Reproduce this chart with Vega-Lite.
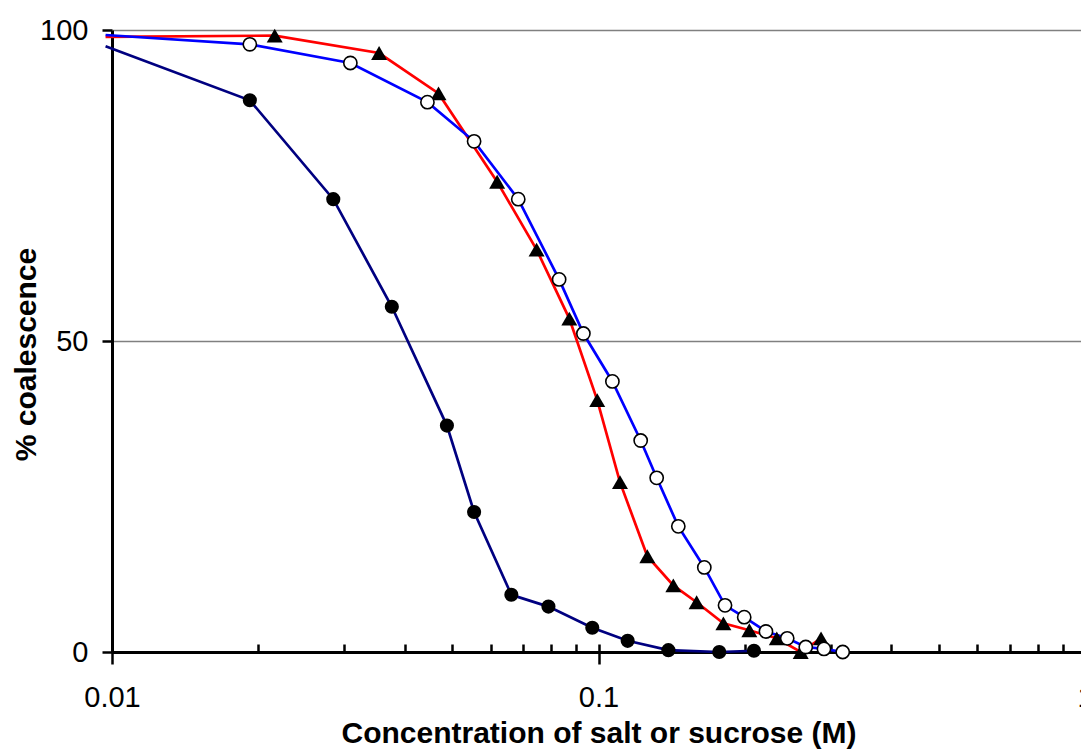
{
  "$schema": "https://vega.github.io/schema/vega-lite/v6.json",
  "width": 973,
  "height": 622,
  "autosize": {"type": "none"},
  "padding": {"left": 112, "top": 30, "right": -4, "bottom": 100},
  "background": "white",
  "config": {
    "font": "Liberation Sans",
    "view": {"stroke": null},
    "axis": {"labelColor": "black", "titleColor": "black", "labelFont": "Liberation Sans", "titleFont": "Liberation Sans"}
  },
  "data": {
    "values": [
      {"series": "S1", "x": 0.0097, "y": 97.4},
      {"series": "S1", "x": 0.0192, "y": 88.7},
      {"series": "S1", "x": 0.0285, "y": 72.8},
      {"series": "S1", "x": 0.0376, "y": 55.5},
      {"series": "S1", "x": 0.0488, "y": 36.4},
      {"series": "S1", "x": 0.0555, "y": 22.5},
      {"series": "S1", "x": 0.0662, "y": 9.2},
      {"series": "S1", "x": 0.0789, "y": 7.3},
      {"series": "S1", "x": 0.0971, "y": 3.9},
      {"series": "S1", "x": 0.1148, "y": 1.8},
      {"series": "S1", "x": 0.1392, "y": 0.3},
      {"series": "S1", "x": 0.1771, "y": 0.0},
      {"series": "S1", "x": 0.2087, "y": 0.2},
      {"series": "S2", "x": 0.0097, "y": 98.9},
      {"series": "S2", "x": 0.0216, "y": 99.1},
      {"series": "S2", "x": 0.0354, "y": 96.3},
      {"series": "S2", "x": 0.0469, "y": 89.8},
      {"series": "S2", "x": 0.0619, "y": 75.6},
      {"series": "S2", "x": 0.0746, "y": 64.7},
      {"series": "S2", "x": 0.0871, "y": 53.6},
      {"series": "S2", "x": 0.0994, "y": 40.5},
      {"series": "S2", "x": 0.1107, "y": 27.3},
      {"series": "S2", "x": 0.126, "y": 15.4},
      {"series": "S2", "x": 0.1425, "y": 10.7},
      {"series": "S2", "x": 0.1591, "y": 8.0},
      {"series": "S2", "x": 0.1806, "y": 4.6},
      {"series": "S2", "x": 0.2042, "y": 3.5},
      {"series": "S2", "x": 0.2325, "y": 2.2},
      {"series": "S2", "x": 0.2604, "y": 0.0},
      {"series": "S2", "x": 0.2867, "y": 2.2},
      {"series": "S3", "x": 0.0097, "y": 99.2},
      {"series": "S3", "x": 0.0192, "y": 97.7},
      {"series": "S3", "x": 0.0309, "y": 94.7},
      {"series": "S3", "x": 0.0445, "y": 88.4},
      {"series": "S3", "x": 0.0555, "y": 82.1},
      {"series": "S3", "x": 0.0684, "y": 72.8},
      {"series": "S3", "x": 0.083, "y": 59.9},
      {"series": "S3", "x": 0.0931, "y": 51.2},
      {"series": "S3", "x": 0.1068, "y": 43.5},
      {"series": "S3", "x": 0.1221, "y": 34.0},
      {"series": "S3", "x": 0.1317, "y": 28.0},
      {"series": "S3", "x": 0.1459, "y": 20.2},
      {"series": "S3", "x": 0.165, "y": 13.6},
      {"series": "S3", "x": 0.182, "y": 7.5},
      {"series": "S3", "x": 0.1993, "y": 5.6},
      {"series": "S3", "x": 0.2209, "y": 3.3},
      {"series": "S3", "x": 0.2443, "y": 2.2},
      {"series": "S3", "x": 0.2667, "y": 0.8},
      {"series": "S3", "x": 0.2907, "y": 0.5},
      {"series": "S3", "x": 0.3177, "y": 0.0}
    ]
  },
  "resolve": {"axis": {"x": "independent"}},
  "layer": [
    {
      "mark": {"type": "line", "strokeWidth": 2.7, "clip": false},
      "encoding": {
        "x": {
          "field": "x", "type": "quantitative",
          "scale": {"type": "log", "domain": [0.01, 1], "nice": false},
          "axis": {
            "orient": "bottom",
            "values": [0.01,0.02,0.03,0.04,0.05,0.06,0.07,0.08,0.09,0.1,0.2,0.3,0.4,0.5,0.6,0.7,0.8,0.9,1],
            "tickSize": -8, "tickWidth": 2.5, "tickColor": "black",
            "domain": true, "domainColor": "black", "domainWidth": 3,
            "labels": false, "title": null, "grid": false
          }
        },
        "y": {
          "field": "y", "type": "quantitative",
          "scale": {"domain": [0, 100], "nice": false},
          "axis": {
            "values": [0, 50, 100],
            "grid": true, "gridColor": "#808080", "gridWidth": 1.5,
            "domainColor": "black", "domainWidth": 3,
            "tickColor": "black", "tickWidth": 2.5, "tickSize": 10,
            "labelFontSize": 29, "labelPadding": 14,
            "title": "% coalescence", "titleFontSize": 30, "titleFontWeight": "bold",
            "titleX": -86, "titleY": 324, "titleAngle": -90, "titleBaseline": "middle", "titleAlign": "center"
          }
        },
        "color": {
          "field": "series", "type": "nominal",
          "scale": {"domain": ["S1", "S2", "S3"], "range": ["#000080", "#FF0000", "#0000FF"]},
          "legend": null
        }
      }
    },
    {
      "transform": [{"filter": "datum.series == 'S1' && datum.x >= 0.01"}],
      "mark": {"type": "point", "shape": "circle", "filled": true, "color": "black", "opacity": 1, "size": 200, "clip": false},
      "encoding": {
        "x": {
          "field": "x", "type": "quantitative",
          "axis": {
            "orient": "bottom",
            "values": [0.01, 0.1, 1],
            "tickSize": 12, "tickWidth": 2.5, "tickColor": "black",
            "domain": false, "grid": false,
            "labelExpr": "datum.value == 0.01 ? '0.01' : (datum.value == 0.1 ? '0.1' : '1')",
            "labelFontSize": 29, "labelPadding": 19, "labelFlush": false, "labelOverlap": false, "labelBound": false,
            "title": "Concentration of salt or sucrose (M)", "titleFontSize": 30, "titleFontWeight": "bold", "titlePadding": 6
          }
        },
        "y": {"field": "y", "type": "quantitative"}
      }
    },
    {
      "transform": [{"filter": "datum.series == 'S2' && datum.x >= 0.01"}],
      "mark": {"type": "point", "shape": "triangle-up", "filled": true, "color": "black", "opacity": 1, "size": 256, "clip": false},
      "encoding": {
        "x": {"field": "x", "type": "quantitative", "axis": null},
        "y": {"field": "y", "type": "quantitative"}
      }
    },
    {
      "transform": [{"filter": "datum.series == 'S3' && datum.x >= 0.01"}],
      "mark": {"type": "point", "shape": "circle", "filled": false, "fill": "white", "fillOpacity": 1, "stroke": "black", "strokeWidth": 1.6, "opacity": 1, "size": 175, "clip": false},
      "encoding": {
        "x": {"field": "x", "type": "quantitative", "axis": null},
        "y": {"field": "y", "type": "quantitative"}
      }
    }
  ]
}
